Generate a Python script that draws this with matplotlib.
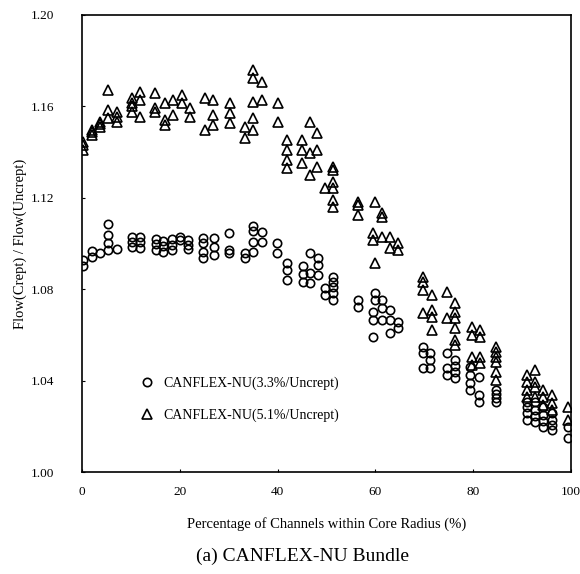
import numpy as np
import matplotlib
matplotlib.use("Agg")
import matplotlib.pyplot as plt

# CANFLEX-NU (3.3%/Uncrept): channel groups (x in %) and flow ratios
CIR_X = [0.3, 2.0, 3.7, 5.3, 7.1, 10.2, 11.9, 15.1, 16.6, 18.5, 20.0, 21.7, 24.8,
         26.9, 30.0, 33.3, 35.0, 36.8, 39.9, 41.9, 45.1, 46.6, 48.3, 49.7, 51.3,
         56.4, 59.9, 61.4, 59.5, 63.0, 64.6, 69.7, 71.2, 74.6, 76.3, 79.3, 81.2,
         84.7, 90.9, 92.6, 94.3, 96.1, 99.4]
CIR_Y = [
    [1.0928, 1.0901], [1.0967, 1.0941], [1.0958],
    [1.1085, 1.1037, 1.1002, 1.0971], [1.0976],
    [1.1028, 1.1006, 1.0985], [1.1028, 1.1006, 1.0980],
    [1.1020, 1.0998, 1.0971], [1.1011, 1.0989, 1.0963],
    [1.1020, 1.0993, 1.0971], [1.1028, 1.1015], [1.1015, 1.0993, 1.0976],
    [1.1024, 1.1002, 1.0963, 1.0936], [1.1024, 1.0985, 1.0950],
    [1.1046, 1.0971, 1.0958], [1.0958, 1.0936],
    [1.1077, 1.1055, 1.1006, 1.0963], [1.1050, 1.1006], [1.1002, 1.0958],
    [1.0915, 1.0884, 1.0840], [1.0901, 1.0866, 1.0831],
    [1.0958, 1.0871, 1.0827], [1.0936, 1.0906, 1.0862], [1.0805, 1.0775],
    [1.0853, 1.0831, 1.0810, 1.0783, 1.0753],
    [1.0753, 1.0722], [1.0783, 1.0753], [1.0753, 1.0718, 1.0665],
    [1.0700, 1.0665, 1.0591], [1.0709, 1.0665, 1.0608], [1.0656, 1.0630],
    [1.0547, 1.0521, 1.0455], [1.0521, 1.0490, 1.0455],
    [1.0521, 1.0455, 1.0424], [1.0490, 1.0464, 1.0438, 1.0411],
    [1.0459, 1.0424, 1.0389, 1.0359], [1.0416, 1.0337, 1.0306],
    [1.0359, 1.0341, 1.0324, 1.0306],
    [1.0306, 1.0284, 1.0258, 1.0228], [1.0306, 1.0271, 1.0245, 1.0219],
    [1.0284, 1.0249, 1.0223, 1.0197], [1.0258, 1.0228, 1.0206, 1.0184],
    [1.0197, 1.0149],
]

# CANFLEX-NU (5.1%/Uncrept)
TRI_X = [0.3, 2.0, 3.7, 5.4, 7.1, 10.2, 11.9, 14.9, 17.0, 18.7, 20.4, 22.0,
         25.2, 26.8, 30.3, 33.3, 35.0, 36.8, 40.1, 41.9, 45.0, 46.6, 48.1,
         49.7, 51.3, 56.4, 59.9, 61.3, 59.5, 63.0, 64.6, 69.7, 71.5, 74.6,
         76.3, 79.7, 81.4, 84.7, 90.9, 92.6, 94.3, 96.1, 99.4]
TRI_Y = [
    [1.1431, 1.1409, 1.1445], [1.1497, 1.1475, 1.1488], [1.1533, 1.1511, 1.1523],
    [1.1672, 1.1584, 1.1549], [1.1577, 1.1555, 1.1533],
    [1.1637, 1.1615, 1.1577, 1.1602], [1.1664, 1.1628, 1.1555],
    [1.1658, 1.1593, 1.1577], [1.1615, 1.1540, 1.1518], [1.1628, 1.1562],
    [1.1650, 1.1615], [1.1593, 1.1555],
    [1.1637, 1.1497], [1.1628, 1.1562, 1.1518], [1.1615, 1.1571, 1.1527],
    [1.1510, 1.1462], [1.1759, 1.1724, 1.1619, 1.1549, 1.1497],
    [1.1707, 1.1628], [1.1615, 1.1532],
    [1.1453, 1.1409, 1.1365, 1.1330], [1.1453, 1.1409, 1.1352],
    [1.1532, 1.1396, 1.1300], [1.1483, 1.1409, 1.1335], [1.1243],
    [1.1335, 1.1322, 1.1269, 1.1243, 1.1190, 1.1160],
    [1.1182, 1.1168, 1.1125], [1.1182, 1.0915], [1.1133, 1.1116, 1.1028],
    [1.1046, 1.1015], [1.1028, 1.0980], [1.1002, 1.0971],
    [1.0853, 1.0831, 1.0796, 1.0696], [1.0775, 1.0709, 1.0678, 1.0621],
    [1.0788, 1.0674], [1.0740, 1.0700, 1.0674, 1.0630, 1.0578, 1.0556],
    [1.0634, 1.0600, 1.0503, 1.0468], [1.0621, 1.0591, 1.0503, 1.0477],
    [1.0547, 1.0525, 1.0503, 1.0481, 1.0438, 1.0403],
    [1.0424, 1.0394, 1.0359, 1.0328], [1.0446, 1.0394, 1.0372, 1.0328],
    [1.0359, 1.0328, 1.0293], [1.0337, 1.0302, 1.0271], [1.0284, 1.0228],
]

LABELS = ["CANFLEX-NU(3.3%/Uncrept)", "CANFLEX-NU(5.1%/Uncrept)"]
X_TICKS = [0, 20, 40, 60, 80, 100]
Y_TICKS = [1.00, 1.04, 1.08, 1.12, 1.16, 1.20]


def expand(xs, ys):
    px, py = [], []
    for x, col in zip(xs, ys):
        px += [x] * len(col)
        py += col
    return np.array(px), np.array(py)


plt.rcParams["font.family"] = ["Liberation Serif", "DejaVu Serif"]

fig = plt.figure(figsize=(5.8, 5.74), dpi=100)
ax = fig.add_axes([0.1414, 0.1777, 0.8431, 0.7962])

cx, cy = expand(CIR_X, CIR_Y)
tx, ty = expand(TRI_X, TRI_Y)
ax.plot(cx, cy, "o", ls="none", ms=6, mfc="none", mec="black", mew=1.2,
        label=LABELS[0])
ax.plot(tx, ty, "^", ls="none", ms=6.5, mfc="none", mec="black", mew=1.2,
        label=LABELS[1])

ax.set_xlim(0, 100)
ax.set_ylim(1.00, 1.20)
ax.set_xticks(X_TICKS)
ax.set_yticks(Y_TICKS)
ax.set_yticklabels([f"{v:.2f}" for v in Y_TICKS])
ax.tick_params(axis="both", direction="in", length=2, labelsize=9.5)
ax.tick_params(axis="y", pad=20)
ax.tick_params(axis="x", pad=10)
for s in ax.spines.values():
    s.set_linewidth(1.2)

ax.set_ylabel("Flow(Crept) / Flow(Uncrept)", fontsize=10.5, labelpad=3)
ax.set_xlabel("Percentage of Channels within Core Radius (%)", fontsize=10.5,
              labelpad=14)
ax.legend(loc="lower left", bbox_to_anchor=(0.09, 0.083), frameon=False,
          fontsize=10, handletextpad=0.6, labelspacing=1.3, handlelength=1.2)

fig.text(0.5208, 0.030, "(a) CANFLEX-NU Bundle", ha="center", va="center",
         fontsize=14)

fig.savefig("out.png", dpi=100)
